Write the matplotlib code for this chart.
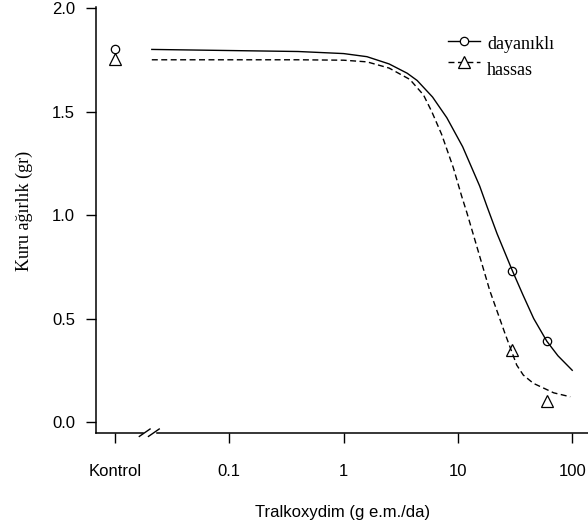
import matplotlib.pyplot as plt
import numpy as np
from matplotlib.lines import Line2D

# observed means (0 = Kontrol)
doses = [0, 30, 60]
dayanikli_obs = [1.80, 0.73, 0.39]
hassas_obs = [1.755, 0.35, 0.10]

# fitted curves
dayanikli_x = [0.021, 0.4, 1, 1.6, 2.5, 3.6, 4.4, 6, 8, 11, 15.5, 18, 22, 30, 37, 46, 60, 75, 100]
dayanikli_y = [1.80, 1.79, 1.78, 1.765, 1.73, 1.685, 1.65, 1.57, 1.47, 1.33, 1.14, 1.04, 0.91, 0.73, 0.615, 0.50, 0.39, 0.32, 0.25]
hassas_x = [0.021, 0.4, 1, 1.6, 2.5, 3.8, 5, 5.9, 7.2, 9.1, 10.8, 12, 14.6, 19, 25.8, 32.7, 37.3, 45.7, 68.9, 96]
hassas_y = [1.75, 1.75, 1.748, 1.74, 1.71, 1.655, 1.58, 1.50, 1.39, 1.23, 1.09, 1.01, 0.85, 0.635, 0.428, 0.275, 0.227, 0.187, 0.141, 0.122]

xticks = [0.01, 0.1, 1, 10, 100]
xticklabels = ['Kontrol', '0.1', '1', '10', '100']
yticks = [0.0, 0.5, 1.0, 1.5, 2.0]

CTRL = 0.01
SANS = 'Liberation Sans'
SERIF = 'Liberation Serif'
DASH = (0, (4.3, 2.5))

fig = plt.figure(figsize=(5.88, 5.28), dpi=100)
ax = fig.add_axes([96 / 588, 1 - 432.7 / 528, 1 - 96 / 588, (432.7 - 7) / 528])

xpos = [CTRL if d == 0 else d for d in doses]

ax.plot(dayanikli_x, dayanikli_y, color='black', lw=1.0)
ax.plot(hassas_x, hassas_y, color='black', lw=1.0, linestyle=DASH)
ax.plot(xpos, dayanikli_obs, 'o', ms=6, mfc='none', mec='black', mew=0.9, linestyle='none')
ax.plot(xpos, hassas_obs, '^', ms=8, mfc='none', mec='black', mew=0.9, linestyle='none')

ax.set_xscale('log')
ax.set_xlim(10 ** -2.166, 10 ** 2.138)
ax.set_ylim(-0.0516, 2.005)
ax.set_xticks(xticks)
ax.set_xticklabels(xticklabels)
ax.minorticks_off()
ax.set_yticks(yticks)
ax.set_yticklabels([f'{v:.1f}' for v in yticks])

for s in ['top', 'right']:
    ax.spines[s].set_visible(False)
for s in ['left', 'bottom']:
    ax.spines[s].set_linewidth(1.1)

ax.tick_params(axis='x', length=7.2, width=1.0, pad=15, labelsize=12)
ax.tick_params(axis='y', length=7.2, width=1.0, pad=8, labelsize=12)
for lab in ax.get_xticklabels() + ax.get_yticklabels():
    lab.set_fontfamily(SANS)

# axis break on x
bc = -1.70
gap = 0.04
half = 0.047
ax.plot([10 ** (bc - gap), 10 ** (bc + gap)], [0, 0], color='white', lw=2.5,
        transform=ax.get_xaxis_transform(), clip_on=False, zorder=5)
for c in (bc - gap, bc + gap):
    ax.plot([10 ** (c - half), 10 ** (c + half)], [-0.0087, 0.0087], color='black', lw=1.0,
            transform=ax.get_xaxis_transform(), clip_on=False, zorder=6)

# legend drawn by hand
def fx(px):
    return px / 588

def fy(py):
    return 1 - py / 528

fig.add_artist(Line2D([fx(447.7), fx(480)], [fy(40.7)] * 2, color='black', lw=1.0))
fig.add_artist(Line2D([fx(464)], [fy(40.7)], marker='o', ms=6, mfc='white', mec='black', mew=0.9))
fig.add_artist(Line2D([fx(447.7), fx(480)], [fy(61.7)] * 2, color='black', lw=1.0, linestyle=DASH))
fig.add_artist(Line2D([fx(464)], [fy(61.7)], marker='^', ms=8, mfc='white', mec='black', mew=0.9))
fig.text(fx(487), fy(49.3), 'dayanıklı', family=SERIF, fontsize=13, va='baseline', ha='left')
fig.text(fx(487), fy(75), 'hassas', family=SERIF, fontsize=13, va='baseline', ha='left')

fig.text(fx(343), fy(512), 'Tralkoxydim (g e.m./da)', family=SANS, fontsize=12, ha='center', va='center')
fig.text(fx(24), fy(211), 'Kuru ağırlık (gr)', family=SERIF, fontsize=13, rotation=90,
         ha='center', va='center')

fig.savefig('out.png', dpi=100)
